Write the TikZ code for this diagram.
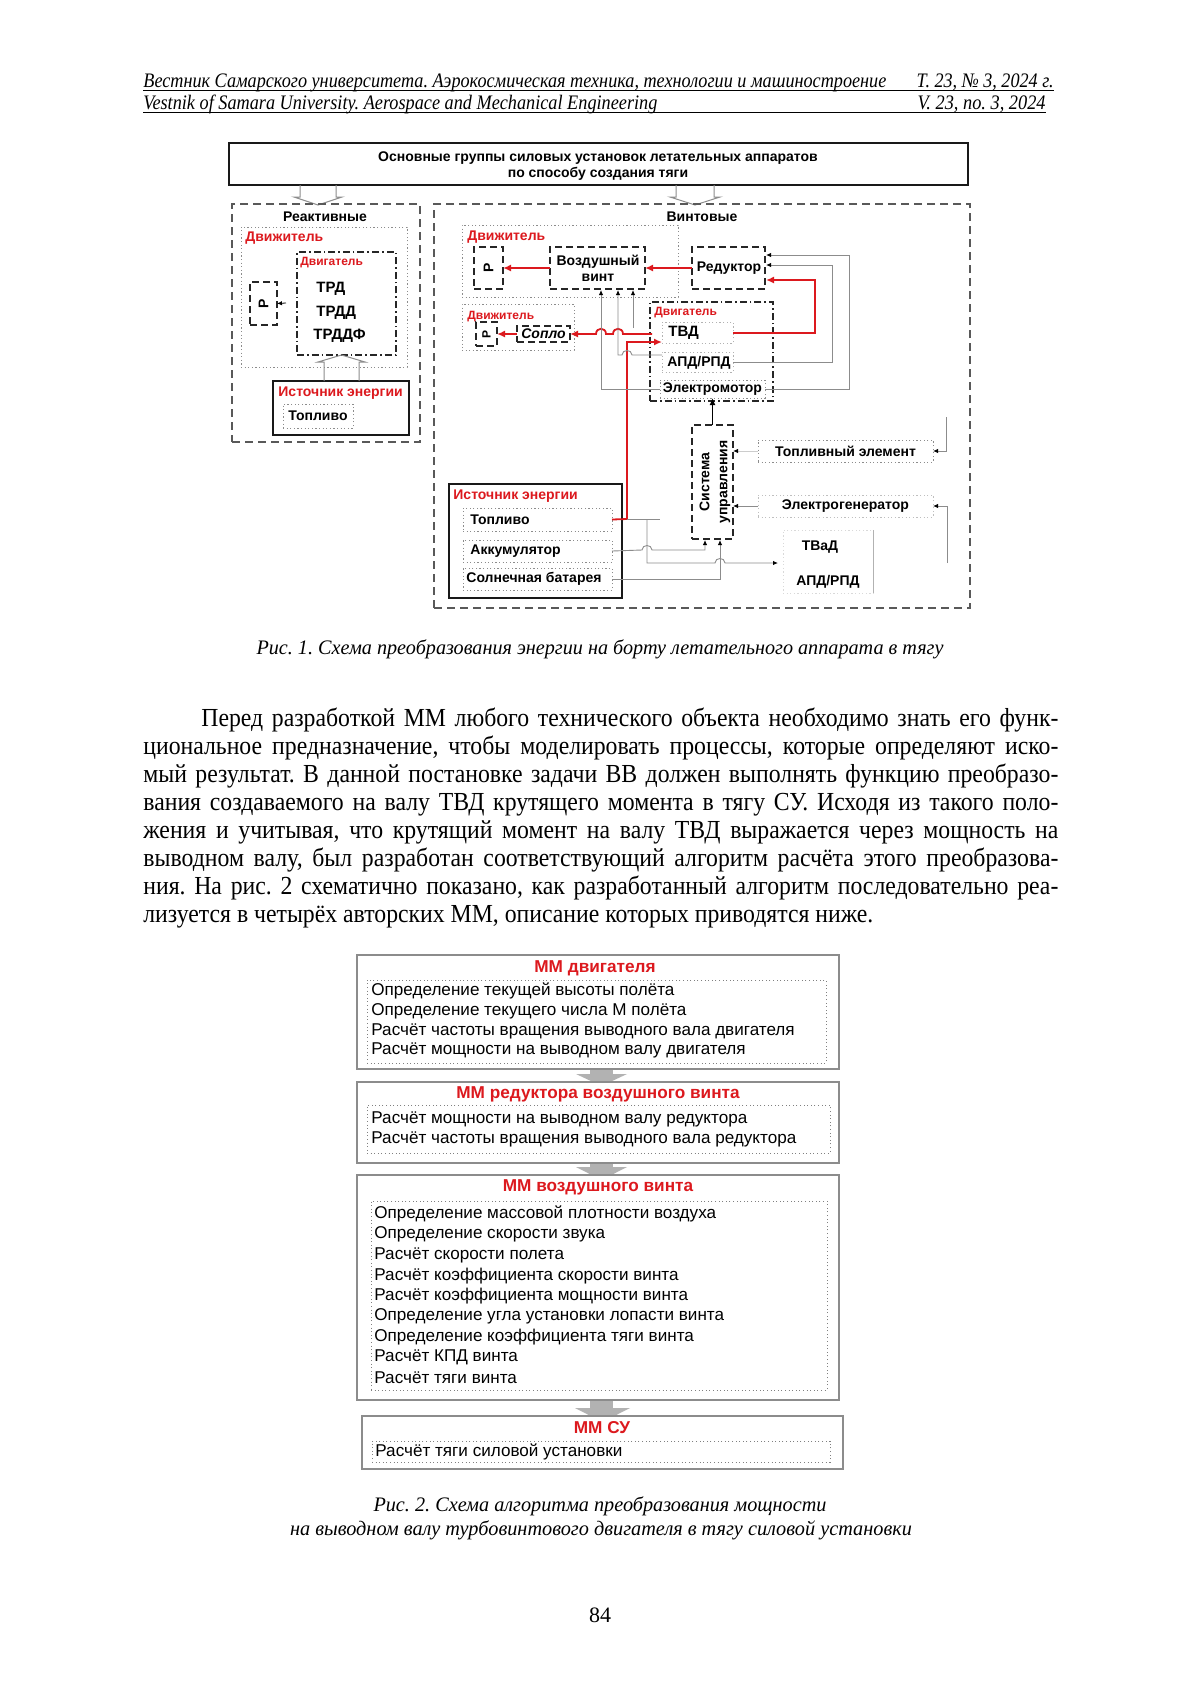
\documentclass[tikz,border=0pt]{standalone}
\usepackage{fontspec}
\setmainfont{Liberation Serif}
\newfontfamily\ar{Liberation Sans}
\usetikzlibrary{arrows.meta,fit}
\frenchspacing
\definecolor{myred}{RGB}{220,25,30}
\newsavebox\fitbox
\newlength\fitlen
\newcommand\fitto[2]{\sbox\fitbox{#2}\setlength\fitlen{\wd\fitbox}\pgfmathsetmacro\fitr{#1/\fitlen}\scalebox{\fitr}[1]{\usebox\fitbox}}
\newcommand\hf{\fontsize{10.3}{12}\selectfont\itshape}
\newcommand\bodyfnt{\fontsize{13}{15}\selectfont}
\newcommand\jl[2]{\scalebox{\bscale}[1]{\makebox[#1][s]{\bodyfnt #2}}}
\tikzset{
 bx/.style={rectangle,inner sep=0pt,outer sep=0pt},
 dsh/.style={bx,draw=black!85,line width=0.7pt,dash pattern=on 3.5pt off 2pt},
 grp/.style={bx,draw=black!65,line width=0.6pt,dash pattern=on 4pt off 2.5pt},
 dtt/.style={bx,draw=black!45,line width=0.5pt,dash pattern=on 0.6pt off 1.2pt},
 ddot/.style={bx,draw=black!85,line width=0.7pt,dash pattern=on 3.5pt off 1.5pt on 0.8pt off 1.5pt},
 sol/.style={bx,draw=black!90,line width=0.8pt},
 fbox/.style={bx,draw=black!45,line width=0.6pt,fill=white},
 fin/.style={bx,draw=black!50,line width=0.45pt,dash pattern=on 0.5pt off 1.3pt},
 lb/.style={font=\ar\fontsize{7}{8}\selectfont\bfseries,inner sep=0pt,align=center},
 lbb/.style={font=\ar\fontsize{7.5}{8.5}\selectfont\bfseries,inner sep=0pt,anchor=west},
 rl/.style={font=\ar\fontsize{7}{8}\selectfont\bfseries,text=myred,inner sep=0pt,anchor=west},
 rls/.style={font=\ar\fontsize{6}{7}\selectfont\bfseries,text=myred,inner sep=0pt,anchor=west},
 ttx/.style={font=\ar\fontsize{8.55}{10}\selectfont,inner sep=0pt,anchor=west},
 ttl/.style={font=\ar\fontsize{8.6}{10}\selectfont\bfseries,text=myred,inner sep=0pt},
 rarr/.style={draw=myred,line width=0.9pt,-{Latex[length=4pt,width=3.5pt]}},
 rline/.style={draw=myred,line width=0.9pt},
 gline/.style={draw=black!45,line width=0.45pt},
 garr/.style={gline,-{Latex[length=2.5pt,width=2.2pt,color=black]}},
 barr/.style={draw=black,line width=0.9pt,-{Latex[length=3.5pt,width=3pt]}},
 hol/.style={draw=black!45,line width=0.5pt},
 gfill/.style={fill=black!30,draw=none}
}
\begin{document}
\sbox\fitbox{\bodyfnt лизуется в четырёх авторских ММ, описание которых приводятся ниже.}%
\setlength\fitlen{\wd\fitbox}%
\pgfmathsetmacro\bscale{365pt/\fitlen}%
\pgfmathsetlengthmacro\bw{457.5pt/\bscale}%
\pgfmathsetlengthmacro\bwi{428.5pt/\bscale}%
\begin{tikzpicture}[x=0.5pt,y=-0.5pt]
\path[use as bounding box,fill=white] (0,0) rectangle (1200,1698);
% ---------- header ----------
\node[anchor=base west,inner sep=0] (h1l) at (143,87) {\fitto{371.5pt}{\hf Вестник Самарского университета. Аэрокосмическая техника, технологии и машиностроение}};
\node[anchor=base east,inner sep=0] (h1r) at (1054,87) {\fitto{68.5pt}{\hf Т. 23, № 3, 2024 г.}};
\node[anchor=base west,inner sep=0] (h2l) at (143,109) {\fitto{257pt}{\hf Vestnik of Samara University. Aerospace and Mechanical Engineering}};
\node[anchor=base east,inner sep=0] (h2r) at (1046,109) {\fitto{64pt}{\hf V. 23, no. 3, 2024}};
\draw[line width=0.45pt] (143,90.5) -- (1054,90.5);
\draw[line width=0.45pt] (143,112.5) -- (1046,112.5);
% ---------- figure 1 ----------
\node[sol,line width=0.9pt,fit={(229,143) (968,185)}] (top) {};
\node[lb] (toptx) at (598,166) {Основные группы силовых установок летательных аппаратов\\по способу создания тяги};
\draw[hol] (300,185) -- (300,197) -- (294,197) -- (318,205) -- (342,197) -- (336,197) -- (336,185);
\draw[hol] (676,185) -- (676,197) -- (670,197) -- (695,205) -- (720,197) -- (714,197) -- (714,185);
% left group
\node[grp,fit={(232,204) (420,442)}] (gl) {};
\node[lb] (gltx) at (325,217) {Реактивные};
\node[dtt,fit={(241,227) (407,367)}] (dvl) {};
\node[rl] (dvltx) at (245,238) {Движитель};
\node[ddot,fit={(297,252) (396,355)}] (engl) {};
\node[rls] (engltx) at (300,263) {Двигатель};
\node[lbb] (trd) at (316,289) {ТРД};
\node[lbb] (trdd) at (316,313) {ТРДД};
\node[lbb] (trddf) at (313,336) {ТРДДФ};
\node[dsh,fit={(250,282) (277,325)}] (pl) {};
\node[lb,rotate=90] (pltx) at (pl.center) {P};
\draw[-{Latex[length=2.5pt,width=2.2pt]},line width=0.4pt] (286,303) -- (pl.east);
\node[sol,fit={(273,381) (409,435)}] (srcl) {};
\node[rl] (srcltx) at (278,393) {Источник энергии};
\node[dtt,fit={(283,404) (353,428)}] (fuell) {};
\node[lbb,font=\ar\fontsize{7}{8}\selectfont\bfseries] (fuelltx) at (288,416) {Топливо};
\draw[hol] (324,381) -- (324,362) -- (318,362) -- (341.5,355) -- (365,362) -- (359,362) -- (359,381);
% right group
\node[grp,fit={(434,204) (970,608)}] (gr) {};
\node[lb] (grtx) at (702,217) {Винтовые};
\node[dtt,fit={(462,225) (678,297)}] (dvr1) {};
\node[rl] (dvr1tx) at (467,237) {Движитель};
\node[dsh,fit={(474,247) (503,289)}] (p2) {};
\node[lb,rotate=90] (p2tx) at (p2.center) {P};
\node[dsh,fit={(550,247) (645,289)}] (vv) {};
\node[lb] (vvtx) at (598,268) {Воздушный\\винт};
\node[dsh,fit={(692,247) (765,289)}] (red) {};
\node[lb] (redtx) at (729,268) {Редуктор};
\draw[rarr] (vv.west) -- (p2.east);
\draw[rarr] (red.west) -- (vv.east);
\node[dtt,fit={(462,304) (574,350)}] (dvr2) {};
\node[rls] (dvr2tx) at (467,317) {Движитель};
\node[dsh,fit={(476,322) (497,346)}] (p3) {};
\node[lb,rotate=90,font=\ar\fontsize{6}{7}\selectfont\bfseries] (p3tx) at (p3.center) {P};
\node[dsh,fit={(517,326) (570,342)}] (soplo) {};
\node[lb,font=\ar\fontsize{7}{8}\selectfont\bfseries\itshape] (soplotx) at (soplo.center) {Сопло};
\draw[rarr] (soplo.west) -- (p3.east);
\node[ddot,fit={(650,302) (773,401)}] (engr) {};
\node[rls] (engrtx) at (654,313) {Двигатель};
\node[dtt,draw=black!30,fit={(662,322) (733,343)}] (tvd) {};
\node[lbb] (tvdtx) at (668,333) {ТВД};
\node[dtt,draw=black!30,fit={(662,352) (733,372)}] (apd) {};
\node[lbb,font=\ar\fontsize{7}{8}\selectfont\bfseries] (apdtx) at (667,363) {АПД/РПД};
\node[dtt,fit={(660,380) (765,398)}] (em) {};
\node[lb] (emtx) at (em.center) {Электромотор};
% red lines
\draw[rarr] (652,334) -- (623,334) .. controls (623,327) and (613,327) .. (613,334) -- (606,334) .. controls (606,327) and (596,327) .. (596,334) -- (soplo.east);
\draw[rarr] (tvd.east |- 0,333) -- (815,333) -- (815,280) -- (766,280);
\node[sol,fit={(449,484) (622,598)}] (srcr) {};
\node[rl] (srcrtx) at (453,496) {Источник энергии};
\node[dtt,fit={(463,508) (612,531)}] (fuelr) {};
\node[lbb,font=\ar\fontsize{7}{8}\selectfont\bfseries] (fuelrtx) at (470,520) {Топливо};
\node[dtt,fit={(463,540) (612,562)}] (akk) {};
\node[lbb,font=\ar\fontsize{7}{8}\selectfont\bfseries] (akktx) at (470,551) {Аккумулятор};
\node[dtt,fit={(463,568) (612,590)}] (sol) {};
\node[lbb,font=\ar\fontsize{7}{8}\selectfont\bfseries] (soltx) at (466,579) {Солнечная батарея};
\draw[rarr] (fuelr.east) -- (627,519) -- (627,342) -- (tvd.west |- 0,342);
% gray connectors
\draw[garr] (em.west) -- (601,389) -- (601,290);
\draw[garr] (apd.north west |- 0,355) -- (632,355) .. controls (632,349) and (622,349) .. (622,355) -- (618,355) -- (618,290);
\draw[garr] (633,328) -- (633,290);
\draw[garr] (em.east) -- (849,389) -- (849,255) -- (766,255);
\draw[garr] (apd.east) -- (832,362) -- (832,265) -- (766,265);
\draw[gline] (627,519) -- (660,519);
\draw[garr] (647,519) -- (647,563) -- (715,563) .. controls (715,557) and (725,557) .. (725,563) -- (778,563);
\node[dsh,fit={(692,425) (733,539)}] (sys) {};
\node[lb,rotate=90,font=\ar\fontsize{7}{9}\selectfont\bfseries] (systx) at (715,482) {Система\\управления};
\draw[garr] (akk.east) -- (642,550) .. controls (642,544) and (652,544) .. (652,550) -- (705,550) -- (705,540);
\draw[garr] (sol.east) -- (720,579) -- (720,540);
\draw[barr] (sys.north) -- (em.south);
\node[dtt,fit={(758,440) (933,462)}] (te) {};
\node[lb] (tetx) at (te.center) {Топливный элемент};
\node[dtt,draw=black!25,fit={(758,495) (933,517)}] (eg) {};
\node[lb] (egtx) at (eg.center) {Электрогенератор};
\draw[garr,draw=black!20] (te.west) -- (sys.east |- te.west);
\draw[garr] (eg.west) -- (sys.east |- eg.west);
\draw[garr] (946,417) -- (946,451) -- (te.east);
\draw[garr] (947,563) -- (947,506) -- (eg.east);
\node[bx,draw=black!15,dash pattern=on 0.6pt off 1.2pt,fit={(783,530) (873,593)}] (tvad) {};
\draw[gline,draw=black!30] (tvad.north east) -- (tvad.south east);
\node[lb] (tvadtx) at (820,547) {ТВаД};
\node[lb] (apd2tx) at (828,582) {АПД/РПД};
\node[anchor=base,inner sep=0] (cap1) at (600,654) {\fitto{343.5pt}{\hf Рис. 1. Схема преобразования энергии на борту летательного аппарата в тягу}};
% ---------- paragraph ----------
\node[anchor=base west,inner sep=0] (l1) at (201,726) {\jl{\bwi}{Перед разработкой ММ любого технического объекта необходимо знать его функ-}};
\node[anchor=base west,inner sep=0] (l2) at (143,754) {\jl{\bw}{циональное предназначение, чтобы моделировать процессы, которые определяют иско-}};
\node[anchor=base west,inner sep=0] (l3) at (143,782) {\jl{\bw}{мый результат. В данной постановке задачи ВВ должен выполнять функцию преобразо-}};
\node[anchor=base west,inner sep=0] (l4) at (143,810) {\jl{\bw}{вания создаваемого на валу ТВД крутящего момента в тягу СУ. Исходя из такого поло-}};
\node[anchor=base west,inner sep=0] (l5) at (143,838) {\jl{\bw}{жения и учитывая, что крутящий момент на валу ТВД выражается через мощность на}};
\node[anchor=base west,inner sep=0] (l6) at (143,866) {\jl{\bw}{выводном валу, был разработан соответствующий алгоритм расчёта этого преобразова-}};
\node[anchor=base west,inner sep=0] (l7) at (143,894) {\jl{\bw}{ния. На рис. 2 схематично показано, как разработанный алгоритм последовательно реа-}};
\node[anchor=base west,inner sep=0] (l8) at (143,922) {\scalebox{\bscale}[1]{\bodyfnt лизуется в четырёх авторских ММ, описание которых приводятся ниже.}};
% ---------- figure 2 ----------
\fill[gfill] (590,1069) rectangle (613,1074);
\fill[gfill] (576,1074) -- (627,1074) -- (601.5,1086) -- cycle;
\fill[gfill] (590,1163) rectangle (613,1167);
\fill[gfill] (576,1167) -- (627,1167) -- (601.5,1180) -- cycle;
\fill[gfill] (590,1400) rectangle (613,1408);
\fill[gfill] (575,1408) -- (630,1408) -- (602.5,1422) -- cycle;
\node[fbox,fit={(357,955) (839,1069)}] (b1) {};
\node[ttl] (b1t) at (595,968) {ММ двигателя};
\node[fin,fit={(367,980) (826,1063)}] (b1i) {};
\node[ttx] (b1a) at (371,991) {Определение текущей высоты полёта};
\node[ttx] (b1b) at (371,1011) {Определение текущего числа М полёта};
\node[ttx] (b1c) at (371,1031) {Расчёт частоты вращения выводного вала двигателя};
\node[ttx] (b1d) at (371,1050) {Расчёт мощности на выводном валу двигателя};
\node[fbox,fit={(357,1082) (839,1163)}] (b2) {};
\node[ttl] (b2t) at (598,1094) {ММ редуктора воздушного винта};
\node[fin,fit={(367,1105) (830,1153)}] (b2i) {};
\node[ttx] (b2a) at (371,1119) {Расчёт мощности на выводном валу редуктора};
\node[ttx] (b2b) at (371,1139) {Расчёт частоты вращения выводного вала редуктора};
\node[fbox,fit={(357,1175) (839,1400)}] (b3) {};
\node[ttl] (b3t) at (598,1187) {ММ воздушного винта};
\node[fin,fit={(371,1201) (827,1390)}] (b3i) {};
\node[ttx] (b3a) at (374,1214) {Определение массовой плотности воздуха};
\node[ttx] (b3b) at (374,1234) {Определение скорости звука};
\node[ttx] (b3c) at (374,1255) {Расчёт скорости полета};
\node[ttx] (b3d) at (374,1276) {Расчёт коэффициента скорости винта};
\node[ttx] (b3e) at (374,1296) {Расчёт коэффициента мощности винта};
\node[ttx] (b3f) at (374,1316) {Определение угла установки лопасти винта};
\node[ttx] (b3g) at (374,1337) {Определение коэффициента тяги винта};
\node[ttx] (b3h) at (374,1357) {Расчёт КПД винта};
\node[ttx] (b3k) at (374,1378) {Расчёт тяги винта};
\node[fbox,fit={(362,1416) (843,1469)}] (b4) {};
\node[ttl] (b4t) at (602,1428) {ММ СУ};
\node[fin,fit={(372,1441) (830,1462)}] (b4i) {};
\node[ttx] (b4a) at (375,1452) {Расчёт тяги силовой установки};
\node[anchor=base,inner sep=0] (cap2a) at (600,1511) {\fitto{226.5pt}{\hf Рис. 2. Схема алгоритма преобразования мощности}};
\node[anchor=base,inner sep=0] (cap2b) at (601,1535) {\fitto{311pt}{\hf на выводном валу турбовинтового двигателя в тягу силовой установки}};
\node[anchor=base,inner sep=0] (pg) at (600,1622) {\fontsize{11}{13}\selectfont 84};
\end{tikzpicture}
\end{document}
